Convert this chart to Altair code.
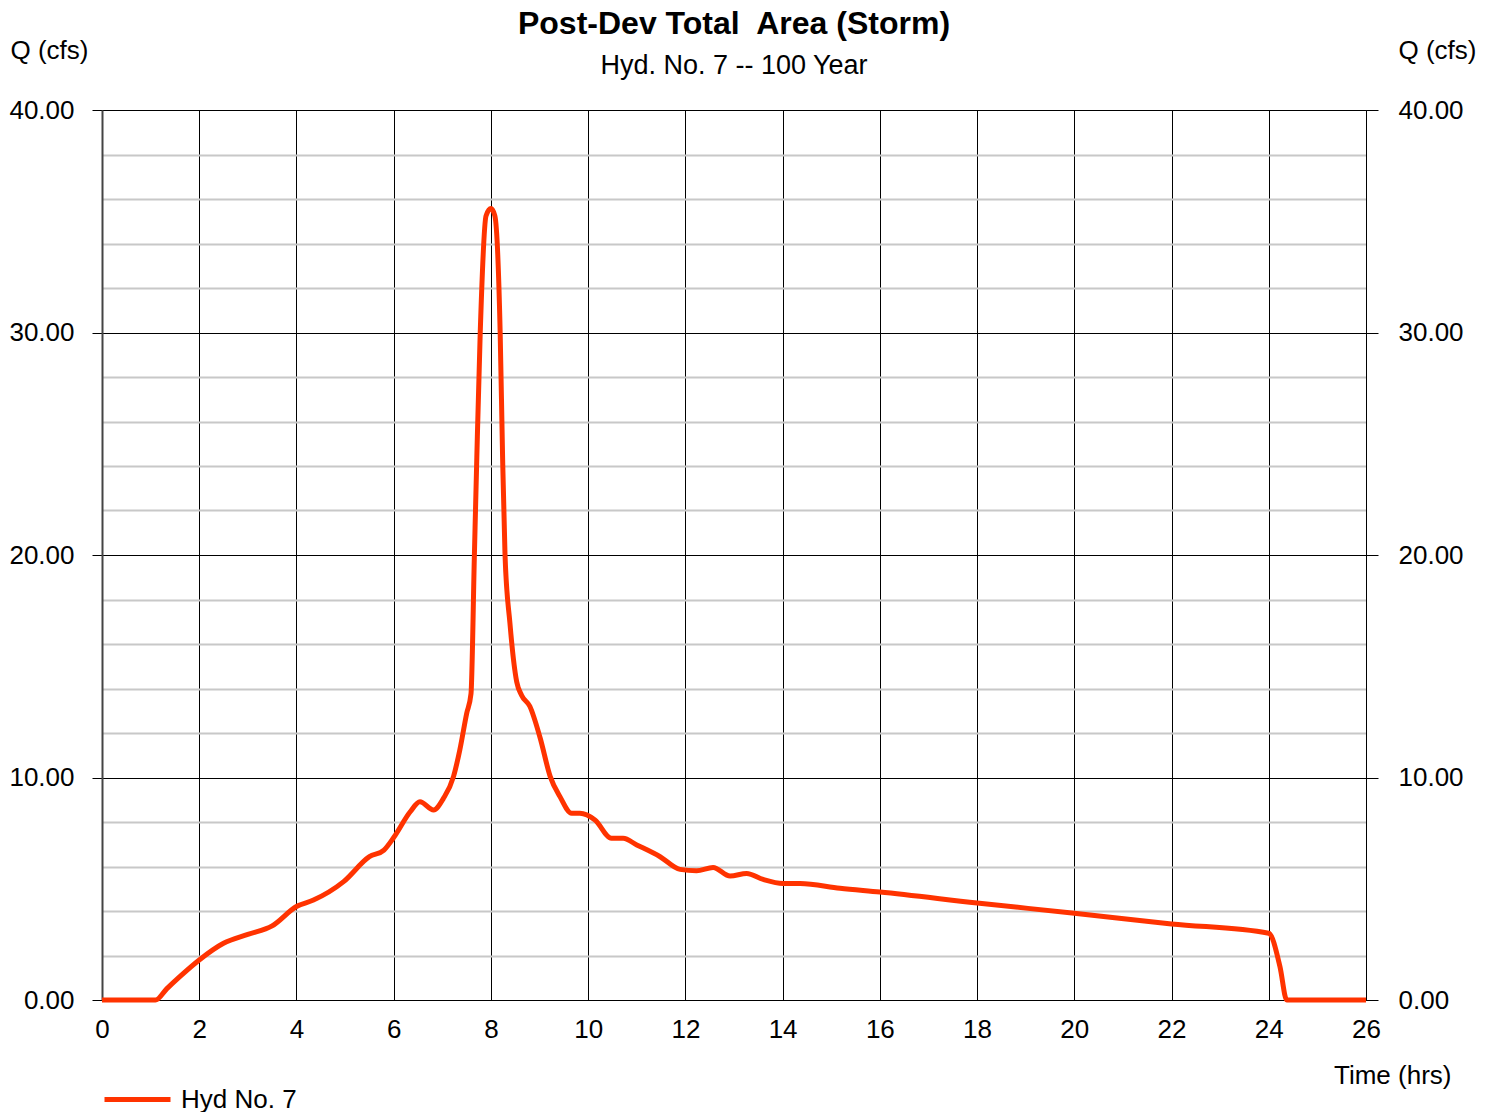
import altair as alt
import pandas as pd

# ---- data ----
time_hrs = [0, 1.1, 1.33, 1.6, 2.0, 2.5, 3.0, 3.5, 4.0, 4.35, 4.97, 5.5, 5.8, 6.0,
            6.34, 6.54, 6.82, 7.02, 7.23, 7.36, 7.50, 7.59, 7.66, 7.71, 7.78, 7.9,
            8.0, 8.08, 8.19, 8.24, 8.29, 8.39, 8.53, 8.63, 8.80, 9.01, 9.22, 9.42,
            9.66, 9.83, 10.14, 10.48, 10.72, 11.0, 11.48, 11.89, 12.23, 12.57,
            12.92, 13.26, 13.6, 14.01, 14.36, 15.18, 16, 18, 20, 22, 24.0, 24.23,
            24.37, 26]
flow_cfs = [0, 0, 0.5, 1.05, 1.8, 2.55, 2.95, 3.33, 4.2, 4.49, 5.32, 6.44, 6.74, 7.3,
            8.46, 8.91, 8.54, 9.05, 10.04, 11.24, 12.87, 13.76, 20.0, 24.4, 30.0, 35.25,
            35.57, 35.25, 30.0, 24.4, 20.0, 16.96, 14.3, 13.7, 13.2, 11.8, 10.04, 9.14,
            8.39, 8.39, 8.09, 7.27, 7.27, 6.97, 6.44, 5.87, 5.81, 5.96,
            5.57, 5.69, 5.42, 5.24, 5.24, 5.02, 4.85, 4.36, 3.9, 3.42, 3.0, 1.5,
            0.0, 0]
series_name = "Hyd No. 7"
x_ticks = list(range(0, 27, 2))
y_ticks = list(range(0, 41, 2))
title_text = "Post-Dev Total\u00a0 Area (Storm)"
subtitle_text = "Hyd. No. 7 -- 100 Year"
y_title = "Q (cfs)"
x_title = "Time (hrs)"

df = pd.DataFrame({"t": time_hrs, "q": flow_cfs, "series": series_name})

FONT = "Liberation Sans"
major = "datum.value % 10 === 0"

x_enc = alt.X(
    "t:Q",
    scale=alt.Scale(domain=[0, 26], nice=False, zero=False),
    axis=alt.Axis(
        values=x_ticks, format="d", title=x_title, labelFlush=False,
        grid=True, gridColor="black", gridWidth=1, gridOpacity=1,
        ticks=False, labelPadding=16, labelFontSize=26, labelFont=FONT,
        labelColor="black", domainColor="black", domainWidth=1,
        titleFont=FONT, titleFontSize=26, titleFontWeight="normal",
        titleColor="black", titleAngle=0, titleAlign="right",
        titleBaseline="middle", titleX=1349, titleY=75,
    ),
)

y_scale = alt.Scale(domain=[0, 40], nice=False, zero=True)
label_expr = f"{major} ? format(datum.value, '.2f') : ''"

left_axis = alt.Axis(
    values=y_ticks, labelExpr=label_expr, title=y_title, orient="left",
    grid=True, labelFlush=False,
    gridColor={"condition": {"test": major, "value": "black"}, "value": "#c8c8c8"},
    gridWidth={"condition": {"test": major, "value": 1}, "value": 2},
    gridOpacity=1,
    ticks=True, tickSize=10, tickColor="black",
    tickOpacity={"condition": {"test": major, "value": 1}, "value": 0},
    labelPadding=18, labelFontSize=26, labelFont=FONT, labelColor="black",
    domainColor="#444444", domainWidth=2,
    titleFont=FONT, titleFontSize=26, titleFontWeight="normal", titleColor="black",
    titleAngle=0, titleAlign="left", titleBaseline="middle",
    titleX=-92, titleY=-60,
)
right_axis = alt.Axis(
    values=y_ticks, labelExpr=label_expr, title=y_title, orient="right",
    grid=False, labelFlush=False,
    ticks=True, tickSize=12, tickColor="black",
    tickOpacity={"condition": {"test": major, "value": 1}, "value": 0},
    labelPadding=20, labelFontSize=26, labelFont=FONT, labelColor="black",
    domainColor="black", domainWidth=1,
    titleFont=FONT, titleFontSize=26, titleFontWeight="normal", titleColor="black",
    titleAngle=0, titleAlign="left", titleBaseline="middle",
    titleX=32, titleY=-60,
)

base = alt.Chart(df)

line = base.mark_line(strokeWidth=5, interpolate="monotone").encode(
    x=x_enc,
    y=alt.Y("q:Q", scale=y_scale, axis=left_axis),
    color=alt.Color(
        "series:N",
        scale=alt.Scale(range=["#FF3300"]),
        legend=alt.Legend(
            title=None, orient="none", legendX=0, legendY=954,
            symbolType="stroke", symbolSize=4356, symbolStrokeWidth=5,
            labelFont=FONT, labelFontSize=26, labelColor="black",
            labelOffset=8, padding=0,
        ),
    ),
)

right = base.mark_line(strokeOpacity=0).encode(
    x=x_enc,
    y=alt.Y("q:Q", scale=y_scale, axis=right_axis),
)

chart = (
    alt.layer(line, right)
    .resolve_axis(y="independent")
    .properties(
        width=1264, height=890,
        autosize=alt.AutoSizeParams(type="none"),
        padding={"left": 94, "top": 102, "right": 122, "bottom": 112},
        title=alt.TitleParams(
            text=title_text, subtitle=subtitle_text,
            font=FONT, fontSize=32, fontWeight="bold", color="black",
            subtitleFont=FONT, subtitleFontSize=27, subtitleColor="black",
            subtitlePadding=12, anchor="middle", frame="group", offset=30,
            dy=73,
        ),
    )
    .configure_view(stroke="black", strokeWidth=1)
    .configure(background="white")
)

chart.save("out.html", embed_options={"renderer": "svg", "actions": False})
